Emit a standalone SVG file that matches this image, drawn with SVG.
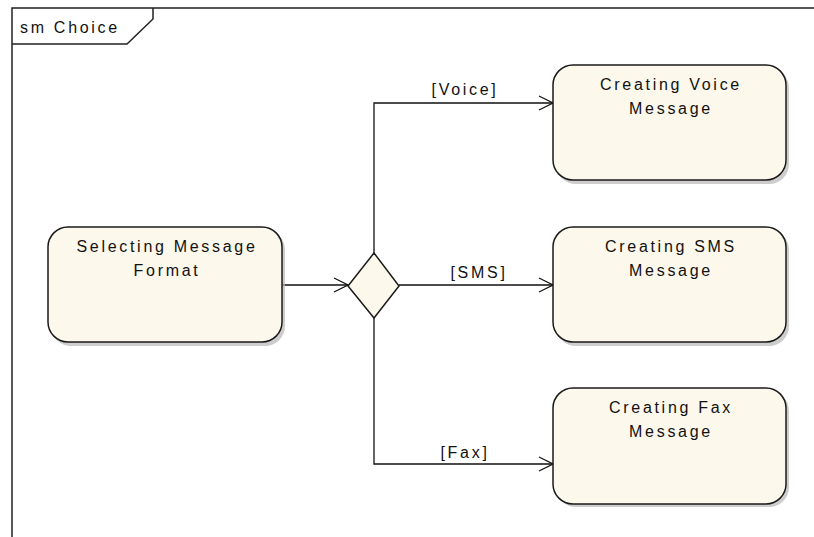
<svg xmlns="http://www.w3.org/2000/svg" width="814" height="537" viewBox="0 0 814 537">
<defs>
<style>
.node{fill:#fdf8ec;stroke:#1a1a1a;stroke-width:1.5}
.shadow{fill:#b8b8b8;opacity:0.7}
.t{font-family:"Liberation Sans","DejaVu Sans",sans-serif;font-size:16px;letter-spacing:2.7px;fill:#111;text-anchor:middle}
.c{fill:none;stroke:#111;stroke-width:1.3}
.frame{fill:none;stroke:#222;stroke-width:1.5}
</style>
<marker id="open" markerWidth="16" markerHeight="16" refX="15" refY="8" orient="auto" markerUnits="userSpaceOnUse">
<path d="M1,1 L15,8 L1,15" fill="none" stroke="#111" stroke-width="1.2"/>
</marker>
</defs>
<rect width="814" height="537" fill="#fff"/>
<g id="frame">
<path class="frame" d="M12,537 L12,8 L814,8"/>
<path class="frame" d="M12,44 L127,44 L153,19 L153,8"/>
<text x="20" y="33" font-family="Liberation Sans,DejaVu Sans,sans-serif" font-size="16" letter-spacing="2.7" fill="#111">sm Choice</text>
</g>
<g id="connectors">
<path class="c" d="M282,285 L348,285" marker-end="url(#open)"/>
<path class="c" d="M374,253 L374,103 L553,103" marker-end="url(#open)"/>
<path class="c" d="M399,285 L553,285" marker-end="url(#open)"/>
<path class="c" d="M374,318 L374,464 L553,464" marker-end="url(#open)"/>
<text class="t" x="465" y="95">[Voice]</text>
<text class="t" x="479" y="278">[SMS]</text>
<text class="t" x="465" y="458">[Fax]</text>
</g>
<g id="selecting">
<rect class="shadow" x="51" y="230" width="234" height="116" rx="20"/>
<rect class="node" x="48" y="227" width="234" height="115" rx="20"/>
<text class="t" x="167" y="252">Selecting Message</text>
<text class="t" x="167" y="276">Format</text>
</g>
<g id="choice">
<path class="node" d="M374,253 L399,286 L374,318 L348,286 Z"/>
</g>
<g id="voice">
<rect class="shadow" x="556" y="68" width="233" height="116" rx="20"/>
<rect class="node" x="553" y="65" width="233" height="115" rx="20"/>
<text class="t" x="671" y="90">Creating Voice</text>
<text class="t" x="671" y="114">Message</text>
</g>
<g id="sms">
<rect class="shadow" x="556" y="230" width="233" height="116" rx="20"/>
<rect class="node" x="553" y="227" width="233" height="115" rx="20"/>
<text class="t" x="671" y="252">Creating SMS</text>
<text class="t" x="671" y="276">Message</text>
</g>
<g id="fax">
<rect class="shadow" x="556" y="391" width="233" height="116" rx="20"/>
<rect class="node" x="553" y="388" width="233" height="116" rx="20"/>
<text class="t" x="671" y="413">Creating Fax</text>
<text class="t" x="671" y="437">Message</text>
</g>
</svg>
